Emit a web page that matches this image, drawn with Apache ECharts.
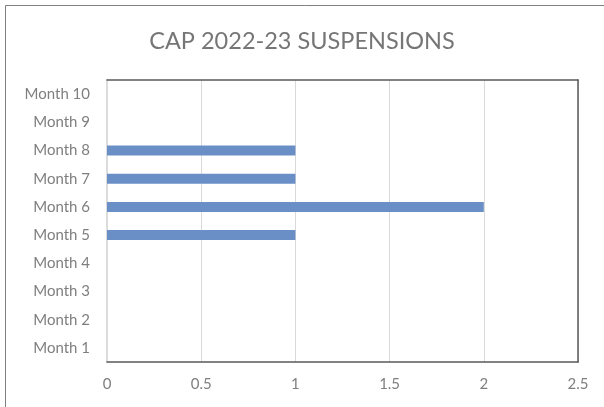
<!DOCTYPE html>
<html><head><meta charset="utf-8">
<script src="https://cdn.jsdelivr.net/npm/echarts@6/dist/echarts.min.js"></script>
<style>html,body{margin:0;padding:0;background:#fff}#c{width:604px;height:407px}</style>
</head><body><div id="c"></div>
<script>
const categories = ['Month 1','Month 2','Month 3','Month 4','Month 5','Month 6','Month 7','Month 8','Month 9','Month 10'];
const suspensions = [0,0,0,0,1,2,1,1,0,0];
const xTicks = {min:0, max:2.5, interval:0.5};
const titleText = 'CAP 2022-23 SUSPENSIONS';

const chart = echarts.init(document.getElementById('c'), null, {renderer:'canvas'});
const font = 'Lato';
const grid = {left:107, right:26, top:80, bottom:45};
chart.setOption({
  animation:false,
  textStyle:{fontFamily:font},
  graphic:[{type:'rect', shape:{x:5.5,y:5.5,width:700,height:500}, style:{fill:'none', stroke:'#7f7f7f', lineWidth:1}, silent:true}],
  title:{text:titleText, left:'center', top:24, textStyle:{fontFamily:font, fontSize:23.5, fontWeight:'normal', color:'#767676'}},
  grid:grid,
  xAxis:[
    {type:'value', position:'bottom', min:xTicks.min, max:xTicks.max, interval:xTicks.interval,
     axisLine:{show:true, onZero:false, lineStyle:{color:'#595959', width:1.5}}, axisTick:{show:false},
     splitLine:{show:true, lineStyle:{color:'#d9d9d9', width:1}},
     axisLabel:{color:'#7f7f7f', fontSize:15, margin:15, fontFamily:font}},
    {type:'value', position:'top', min:xTicks.min, max:xTicks.max, interval:xTicks.interval,
     axisLine:{show:true, onZero:false, lineStyle:{color:'#595959', width:1.5}}, axisTick:{show:false},
     splitLine:{show:false}, axisLabel:{show:false}}
  ],
  yAxis:[
    {type:'category', data:categories, position:'left',
     axisLine:{show:true, onZero:false, lineStyle:{color:'#dcdcdc', width:2}}, axisTick:{show:false},
     axisLabel:{color:'#7f7f7f', fontSize:15, margin:17, fontFamily:font}},
    {type:'category', data:categories, position:'right',
     axisLine:{show:true, onZero:false, lineStyle:{color:'#595959', width:1.5}}, axisTick:{show:false},
     axisLabel:{show:false}}
  ],
  series:[{type:'bar', data:suspensions, xAxisIndex:0, yAxisIndex:0, barWidth:10,
    itemStyle:{color:'#6a8fc7'}}]
});
</script></body></html>
